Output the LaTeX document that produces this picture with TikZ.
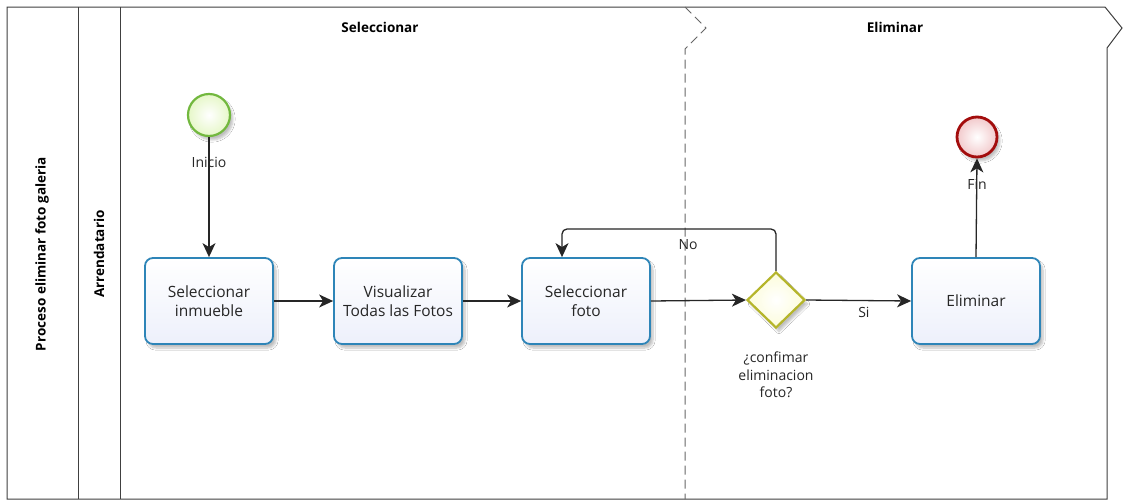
\documentclass[tikz,border=0pt]{standalone}
\usepackage{fontspec}
\setmainfont{Open Sans}
\usetikzlibrary{arrows.meta,shapes.geometric,shadows.blur,positioning}
\definecolor{taskline}{HTML}{2E85B8}
\definecolor{taskfill}{HTML}{EDF0FB}
\definecolor{startline}{HTML}{72B83E}
\definecolor{startfill}{HTML}{E6F7C8}
\definecolor{endline}{HTML}{A30D0D}
\definecolor{endfill}{HTML}{F2C9CB}
\definecolor{gateline}{HTML}{B5B52A}
\definecolor{gatefill}{HTML}{FCFCDA}
\tikzset{
  x=1pt, y=-1pt,
  lbl/.style={font=\fontsize{14}{17.5}\selectfont, align=center, text=black!85},
  tasktext/.style={font=\fontsize{15.5}{19}\selectfont, align=center, text=black!85},
  hdr/.style={font=\fontsize{13.5}{16}\selectfont\bfseries},
  task/.style={draw=taskline, line width=1.8pt, rounded corners=8pt,
    minimum width=128pt, minimum height=86pt, top color=white, bottom color=taskfill,
    tasktext, blur shadow={shadow xshift=3pt, shadow yshift=-4pt, shadow opacity=25, shadow blur steps=6}},
  startev/.style={circle, draw=startline, line width=2.2pt, minimum size=42pt, inner sep=0pt,
    inner color=white, outer color=startfill,
    blur shadow={shadow xshift=3pt, shadow yshift=-4pt, shadow opacity=25, shadow blur steps=6}},
  endev/.style={circle, draw=endline, line width=2.8pt, minimum size=40pt, inner sep=0pt,
    inner color=white, outer color=endfill,
    blur shadow={shadow xshift=3pt, shadow yshift=-4pt, shadow opacity=25, shadow blur steps=6}},
  gate/.style={diamond, draw=gateline, line width=2.2pt, minimum width=58pt, minimum height=56pt,
    inner sep=0pt, inner color=white, outer color=gatefill,
    blur shadow={shadow xshift=3pt, shadow yshift=-4pt, shadow opacity=25, shadow blur steps=6}},
  flow/.style={draw=black!85, line width=1.3pt, -{Stealth[length=14pt,width=13pt,inset=4pt]}},
  frame/.style={draw=black!75, line width=1pt},
}
\begin{document}
\begin{tikzpicture}
\useasboundingbox (0,0) rectangle (1126,501);
\fill[white] (0,0) rectangle (1126,501);

% pool, lane and phase frame
\draw[frame] (7,7) -- (1105,7) -- (1122,28) -- (1107,48) -- (1107,499) -- (7,499) -- cycle;
\draw[frame] (78,7) -- (78,499);
\draw[frame] (120,7) -- (120,499);
\draw[draw=black!60, line width=1pt, dash pattern=on 9pt off 5pt] (685,7) -- (706,28) -- (685,49) -- (685,499);

\node[hdr, rotate=90] (pool) at (42,254) {Proceso eliminar foto galeria};
\node[hdr, rotate=90] (lane) at (99,254) {Arrendatario};
\node[hdr] (ph1) at (380,27) {Seleccionar};
\node[hdr] (ph2) at (895,27) {Eliminar};

% flow elements
\node[startev] (inicio) at (209,115) {};
\node[lbl] (inicioL) at (209,162) {Inicio};
\node[task] (t1) at (209,301) {Seleccionar\\inmueble};
\node[task] (t2) at (398,301) {Visualizar\\Todas las Fotos};
\node[task] (t3) at (586,301) {Seleccionar\\foto};
\node[gate] (g) at (776,300) {};
\node[lbl] (gL) at (776,375) {¿confimar\\eliminacion\\foto?};
\node[task] (t4) at (976,301) {Eliminar};
\node[endev] (fin) at (977,137) {};

% sequence flows
\draw[flow] (inicio) -- (t1);
\draw[flow] (t1) -- (t2);
\draw[flow] (t2) -- (t3);
\draw[flow] (t3.east) -- (g.west);
\draw[flow] (g.east) -- node[lbl, pos=0.55, below=3pt] (si) {Si} (t4.west);
\draw[flow, rounded corners=5pt] (g.north) -- (776,229) -- (562,229) -- (t3.north -| 562,0);
\node[lbl] (no) at (688,245) {No};
\node[lbl] (finL) at (977,184) {Fin};
\draw[flow] (t4.north) -- (fin.south);
\end{tikzpicture}
\end{document}
